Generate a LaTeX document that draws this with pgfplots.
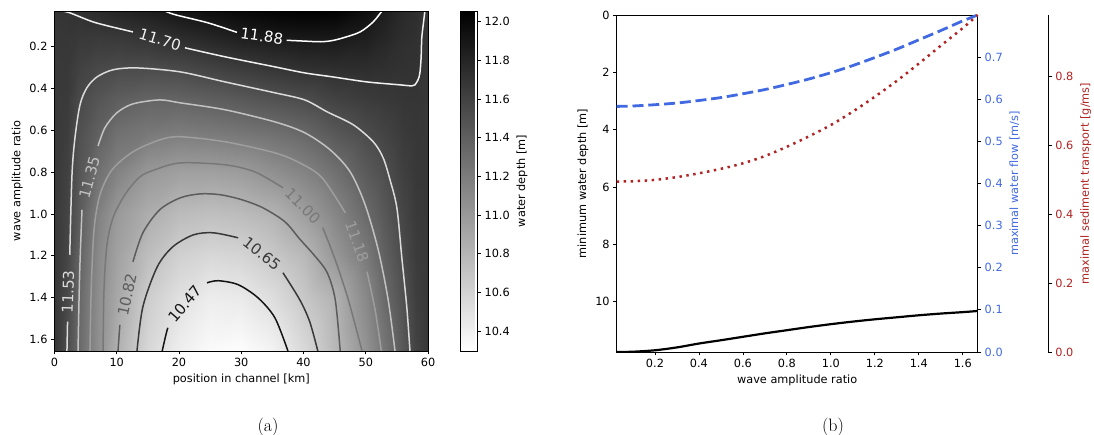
\documentclass[border=0pt]{standalone}
\usepackage{fontspec}
\setsansfont{DejaVu Sans}
\usepackage{pgfplots}
\usepackage{pgfplotstable}
\pgfplotsset{compat=1.18}

\definecolor{flowblue}{HTML}{4169E1}
\definecolor{sedred}{HTML}{B22222}
% contour line greys, low level -> dark
\definecolor{lvA}{gray}{0.08}
\definecolor{lvB}{gray}{0.22}
\definecolor{lvC}{gray}{0.36}
\definecolor{lvD}{gray}{0.47}
\definecolor{lvE}{gray}{0.62}
\definecolor{lvF}{gray}{0.76}
\definecolor{lvG}{gray}{0.86}
\definecolor{lvH}{gray}{0.94}
\definecolor{lvI}{gray}{1.00}

\pgfplotsset{
  mpl/.style={
    font=\sffamily\fontsize{11.3}{13}\selectfont,
    /pgf/number format/assume math mode=true,
    scale only axis,
    tick align=outside,
    major tick length=3.5pt,
    every tick/.style={black, line width=0.8pt},
    axis line style={line width=0.8pt},
    enlargelimits=false,
  },
  onedec/.style={/pgf/number format/fixed, /pgf/number format/fixed zerofill, /pgf/number format/precision=1},
  cline/.style={line width=1.5pt, smooth},
}
\tikzset{clab/.style={font=\sffamily\fontsize{15}{15}\selectfont, inner sep=0pt}}

% water depth over position (x, km) and wave amplitude ratio (a)
\pgfplotstableread{
x a v
0 0.03 11.69
2 0.03 11.70
4 0.03 11.715
7 0.03 11.75
10 0.03 11.80
15 0.03 11.85
20 0.03 11.91
25 0.03 11.96
30 0.03 12.00
35 0.03 12.03
40 0.03 12.05
45 0.03 12.04
50 0.03 11.96
53 0.03 11.85
56 0.03 11.77
58 0.03 11.74
60 0.03 11.67
0 0.15 11.67
2 0.15 11.68
4 0.15 11.665
7 0.15 11.66
10 0.15 11.667
15 0.15 11.70
20 0.15 11.757
25 0.15 11.804
30 0.15 11.857
35 0.15 11.885
40 0.15 11.90
45 0.15 11.895
50 0.15 11.852
53 0.15 11.80
56 0.15 11.74
58 0.15 11.725
60 0.15 11.67
0 0.3 11.66
2 0.3 11.665
4 0.3 11.607
7 0.3 11.56
10 0.3 11.54
15 0.3 11.54
20 0.3 11.557
25 0.3 11.605
30 0.3 11.65
35 0.3 11.693
40 0.3 11.73
45 0.3 11.746
50 0.3 11.747
53 0.3 11.73
56 0.3 11.715
58 0.3 11.71
60 0.3 11.67
0 0.45 11.66
2 0.45 11.655
4 0.45 11.549
7 0.45 11.47
10 0.45 11.41
15 0.45 11.365
20 0.45 11.372
25 0.45 11.403
30 0.45 11.445
35 0.45 11.489
40 0.45 11.535
45 0.45 11.604
50 0.45 11.646
53 0.45 11.666
56 0.45 11.687
58 0.45 11.69
60 0.45 11.67
0 0.6 11.66
2 0.6 11.635
4 0.6 11.509
7 0.6 11.395
10 0.6 11.294
15 0.6 11.24
20 0.6 11.212
25 0.6 11.231
30 0.6 11.261
35 0.6 11.30
40 0.6 11.36
45 0.6 11.463
50 0.6 11.547
53 0.6 11.598
56 0.6 11.659
58 0.6 11.68
60 0.6 11.67
0 0.8 11.66
2 0.8 11.61
4 0.8 11.466
7 0.8 11.28
10 0.8 11.155
15 0.8 11.005
20 0.8 10.953
25 0.8 10.952
30 0.8 10.979
35 0.8 11.059
40 0.8 11.15
45 0.8 11.28
50 0.8 11.436
53 0.8 11.514
56 0.8 11.62
58 0.8 11.67
60 0.8 11.67
0 1.0 11.66
2 1.0 11.59
4 1.0 11.423
7 1.0 11.17
10 1.0 10.996
15 1.0 10.86
20 1.0 10.761
25 1.0 10.734
30 1.0 10.759
35 1.0 10.82
40 1.0 10.956
45 1.0 11.13
50 1.0 11.327
53 1.0 11.45
56 1.0 11.58
58 1.0 11.66
60 1.0 11.67
0 1.2 11.67
2 1.2 11.575
4 1.2 11.38
7 1.2 11.11
10 1.2 10.94
15 1.2 10.744
20 1.2 10.617
25 1.2 10.567
30 1.2 10.588
35 1.2 10.669
40 1.2 10.783
45 1.2 11.007
50 1.2 11.214
53 1.2 11.388
56 1.2 11.543
58 1.2 11.645
60 1.2 11.67
0 1.4 11.67
2 1.4 11.555
4 1.4 11.345
7 1.4 11.08
10 1.4 10.90
15 1.4 10.64
20 1.4 10.506
25 1.4 10.42
30 1.4 10.44
35 1.4 10.526
40 1.4 10.677
45 1.4 10.829
50 1.4 11.115
53 1.4 11.323
56 1.4 11.50
58 1.4 11.63
60 1.4 11.67
0 1.655 11.68
2 1.655 11.53
4 1.655 11.33
7 1.655 11.07
10 1.655 10.84
15 1.655 10.57
20 1.655 10.41
25 1.655 10.33
30 1.655 10.31
35 1.655 10.38
40 1.655 10.56
45 1.655 10.78
50 1.655 11.04
53 1.655 11.24
56 1.655 11.45
58 1.655 11.60
60 1.655 11.68
}\depthgrid

\pgfplotstableread{
ratio depth flow sed
0.026 11.75 0.583 0.494
0.1 11.74 0.584 0.495
0.2 11.69 0.587 0.499
0.3 11.59 0.591 0.507
0.4 11.455 0.597 0.518
0.5 11.34 0.604 0.531
0.6 11.22 0.613 0.547
0.7 11.10 0.623 0.568
0.8 10.99 0.635 0.595
0.9 10.88 0.648 0.625
1.0 10.78 0.663 0.658
1.1 10.69 0.680 0.697
1.2 10.61 0.699 0.740
1.3 10.54 0.719 0.786
1.4 10.47 0.741 0.836
1.5 10.41 0.763 0.888
1.6 10.36 0.786 0.939
1.668 10.32 0.800 0.977
}\extremes

\begin{document}
\begin{tikzpicture}
\path[use as bounding box] (0,0) rectangle (1094pt,435pt);

% ---------------- (a) heat map with contours ----------------
\begin{axis}[mpl,
  at={(54.5pt,84pt)}, anchor=south west,
  width=373.5pt, height=340pt,
  xmin=0, xmax=60, ymin=0.03, ymax=1.655, y dir=reverse,
  xtick={0,10,20,30,40,50,60},
  ytick={0.2,0.4,0.6,0.8,1.0,1.2,1.4,1.6},
  yticklabel style={onedec},
  tick pos=left,
  xlabel={position in channel [km]},
  ylabel={wave amplitude ratio},
  colormap={grayr}{gray(0cm)=(1); gray(1cm)=(0)},
  point meta min=10.296, point meta max=12.056,
  axis on top,
  colorbar,
  colorbar style={mpl,
    width=17pt, height=340pt,
    at={(parent axis.north east)}, anchor=north west, xshift=24pt,
    ytick={10.4,10.6,10.8,11.0,11.2,11.4,11.6,11.8,12.0},
    yticklabel style={onedec},
    ytick pos=right, yticklabel pos=right,
    ylabel={water depth [m]}, ylabel near ticks,
  },
]
\addplot[surf, shader=interp, mesh/cols=17, point meta=explicit]
  table[x=x, y=a, meta=v] {\depthgrid};

% 11.88
\addplot[lvI, cline] coordinates {(17.75,0.03)(19.4,0.048)(24.7,0.087)(29.3,0.132)};
\addplot[lvI, cline] coordinates {(37.3,0.170)(40.2,0.174)(42.7,0.177)(44.5,0.172)(46.4,0.158)(49.1,0.13)(51.2,0.082)(52.6,0.03)};
\node[clab, text=lvI, rotate=-8] at (axis cs:33.3,0.150) {11.88};
% 11.70
\addplot[lvH, cline] coordinates {(1.2,0.03)(2.49,0.039)(6.18,0.082)(9.5,0.108)(12.6,0.13)};
\addplot[lvH, cline] coordinates {(20.96,0.206)(27.4,0.249)(35.4,0.297)(40.2,0.326)(44.7,0.345)(50.2,0.369)(55.5,0.383)(57.4,0.388)(57.9,0.383)(58.4,0.359)(58.7,0.326)(58.9,0.25)(59.0,0.158)(59.3,0.08)(59.5,0.03)};
\node[clab, text=lvH, rotate=-17] at (axis cs:16.95,0.166) {11.70};
% 11.53
\addplot[lvG, cline] coordinates {(2.0,1.655)(2.1,1.515)};
\addplot[lvG, cline] coordinates {(2.45,1.195)(2.81,0.813)(3.29,0.636)(4.1,0.478)(5.2,0.397)(6.83,0.345)(9.4,0.311)(13.25,0.302)(20.2,0.321)(27.4,0.369)(35.4,0.421)(40.2,0.455)(43.8,0.512)(48.0,0.574)(51.2,0.655)(52.8,0.732)(53.9,0.837)(55.0,0.971)(55.8,1.21)(56.6,1.448)(57.1,1.655)};
\node[clab, text=lvG, rotate=88] at (axis cs:2.17,1.372) {11.53};
% 11.35
\addplot[lvF, cline] coordinates {(3.78,1.655)(3.94,1.41)(4.1,1.229)(4.42,0.98)};
\addplot[lvF, cline] coordinates {(7.0,0.675)(8.1,0.588)(10.0,0.517)(12.6,0.474)(16.9,0.455)(20.2,0.469)(27.4,0.502)(35.4,0.56)(40.2,0.612)(44.3,0.694)(47.5,0.799)(49.9,0.956)(52.0,1.171)(53.6,1.41)(54.7,1.655)};
\node[clab, text=lvF, rotate=75] at (axis cs:5.6,0.827) {11.35};
% 11.18
\addplot[lvE, cline] coordinates {(5.7,1.655)(5.9,1.362)(6.35,1.076)(7.3,0.909)(9.24,0.789)(12.6,0.703)(16.9,0.646)(20.2,0.631)(27.4,0.655)(35.4,0.708)(39.4,0.756)(42.98,0.827)(46.7,0.994)};
\addplot[lvE, cline] coordinates {(50.2,1.276)(51.5,1.458)(52.5,1.655)};
\node[clab, text=lvE, rotate=-70] at (axis cs:48.6,1.133) {11.18};
% 11.00
\addplot[lvD, cline] coordinates {(7.8,1.655)(7.95,1.362)(8.43,1.147)(9.4,1.018)(11.3,0.908)(13.7,0.823)(16.1,0.789)(20.2,0.756)(27.4,0.765)(32.2,0.799)(36.7,0.875)};
\addplot[lvD, cline] coordinates {(43.1,1.066)(45.1,1.219)(47.2,1.41)(49.4,1.655)};
\node[clab, text=lvD, rotate=-45] at (axis cs:39.9,0.961) {11.00};
% 10.82
\addplot[lvC, cline] coordinates {(10.2,1.655)(10.5,1.53)};
\addplot[lvC, cline] coordinates {(12.6,1.229)(14.2,1.09)(16.9,0.98)(20.2,0.923)(23.4,0.904)(26.6,0.908)(30.1,0.932)(33.5,0.971)(37.0,1.037)(39.4,1.12)(41.8,1.2)(43.8,1.28)(45.1,1.41)(45.9,1.655)};
\node[clab, text=lvC, rotate=78] at (axis cs:11.65,1.386) {10.82};
% 10.65
\addplot[lvB, cline] coordinates {(13.25,1.655)(14.2,1.443)(16.5,1.253)(19.0,1.157)(22.3,1.1)(25.5,1.09)(29.5,1.114)};
\addplot[lvB, cline] coordinates {(36.7,1.281)(39.4,1.41)(41.0,1.515)(42.3,1.655)};
\node[clab, text=lvB, rotate=-38] at (axis cs:33.3,1.19) {10.65};
% 10.47
\addplot[lvA, cline] coordinates {(17.3,1.655)(17.9,1.577)(18.2,1.544)};
\addplot[lvA, cline] coordinates {(24.5,1.329)(26.3,1.319)(29.5,1.338)(32.7,1.401)(35.4,1.496)(37.5,1.655)};
\node[clab, text=lvA, rotate=49] at (axis cs:20.96,1.429) {10.47};
\end{axis}

% ---------------- (b) extremes vs wave amplitude ----------------
\begin{axis}[mpl,
  at={(616.7pt,83pt)}, anchor=south west,
  width=361pt, height=337pt,
  xmin=0.026, xmax=1.668, ymin=0, ymax=11.75, y dir=reverse,
  xtick={0.2,0.4,0.6,0.8,1.0,1.2,1.4,1.6},
  xticklabel style={onedec},
  ytick={0,2,4,6,8,10},
  tick pos=left,
  xlabel={wave amplitude ratio},
  ylabel={minimum water depth [m]},
]
\addplot[black, line width=2.2pt, smooth] table[x=ratio, y=depth] {\extremes};
\end{axis}

\begin{axis}[mpl,
  at={(616.7pt,83pt)}, anchor=south west,
  width=361pt, height=337pt,
  xmin=0.026, xmax=1.668, ymin=0, ymax=0.80,
  axis x line=none, axis y line*=right,
  ytick={0,0.1,0.2,0.3,0.4,0.5,0.6,0.7},
  yticklabel style={text=flowblue, onedec},
  ylabel={maximal water flow [m/s]}, ylabel near ticks,
  ylabel style={text=flowblue},
]
\addplot[flowblue, line width=2.8pt, smooth, dash pattern=on 11pt off 4.8pt] table[x=ratio, y=flow] {\extremes};
\end{axis}

\begin{axis}[mpl,
  at={(616.7pt,83pt)}, anchor=south west,
  width=431.6pt, height=337pt,
  xmin=0.026, xmax=1.9892, ymin=0, ymax=0.977,
  axis x line=none, axis y line*=right,
  ytick={0,0.2,0.4,0.6,0.8},
  yticklabel style={text=sedred, onedec},
  ylabel={maximal sediment transport [g/ms]}, ylabel near ticks,
  ylabel style={text=sedred},
]
\addplot[sedred, line width=2.5pt, smooth, dash pattern=on 2.4pt off 4.6pt] table[x=ratio, y=sed] {\extremes};
\end{axis}

\node[anchor=base, font=\rmfamily\fontsize{18}{18}\selectfont] at (268pt,3.5pt) {(a)};
\node[anchor=base, font=\rmfamily\fontsize{18}{18}\selectfont] at (833pt,3.5pt) {(b)};
\end{tikzpicture}
\end{document}
